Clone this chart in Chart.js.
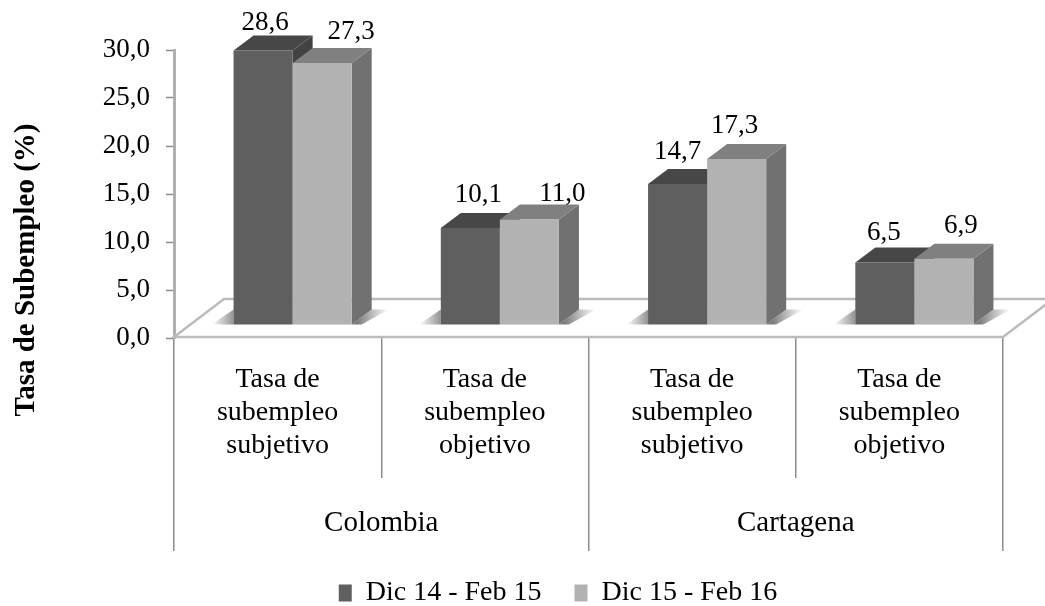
<!DOCTYPE html>
<html>
<head>
<meta charset="utf-8">
<style>html,body{margin:0;padding:0;background:#fff}#w{width:1045px;height:606px;position:relative}</style>
<script src="https://cdn.jsdelivr.net/npm/chart.js@4"></script>
</head>
<body>
<div id="w"><canvas id="c" width="1045" height="606"></canvas></div>
<script>
const categories = [
  ['Tasa de','subempleo','subjetivo'],
  ['Tasa de','subempleo','objetivo'],
  ['Tasa de','subempleo','subjetivo'],
  ['Tasa de','subempleo','objetivo']
];
const groups = ['Colombia','Cartagena'];
const seriesNames = ['Dic 14 - Feb 15','Dic 15 - Feb 16'];
const valuesDic14 = [28.6,10.1,14.7,6.5];
const valuesDic15 = [27.3,11.0,17.3,6.9];
const yTitle = 'Tasa de Subempleo (%)';

const FONT = '"Liberation Serif", serif';
const FS = 27;
const fmt = v => Number(v).toFixed(1).replace('.',',');
const labelShift = [
  [[2,-28],[8,-33],[0,-32],[-1,-30]],
  [[29,-31],[33,-25],[-2,-33],[17,-33]]
];
const palette = [
  {front:'#5f5f5f',top:'#474747',side:'#424242'},
  {front:'#b2b2b2',top:'#808080',side:'#717171'}
];
const OFF = {x:15,y:-13}, DEPTH = {x:20,y:-15}, FLOOR = {x:50,y:-38};

function poly(ctx,pts,fill){
  ctx.beginPath();
  pts.forEach((p,i)=> i?ctx.lineTo(p[0],p[1]):ctx.moveTo(p[0],p[1]));
  ctx.closePath();
  ctx.fillStyle=fill; ctx.fill();
}
function drawBox(ctx,chart,idx){
  chart.getDatasetMeta(idx).data.forEach(el=>{
    const l=el.x-el.width/2, r=el.x+el.width/2, t=el.y, b=el.base;
    const c=palette[idx];
    poly(ctx,[[r,t],[r+DEPTH.x,t+DEPTH.y],[r+DEPTH.x,b+DEPTH.y],[r,b]],c.side);
    poly(ctx,[[l,t],[l+DEPTH.x,t+DEPTH.y],[r+DEPTH.x,t+DEPTH.y],[r,t]],c.top);
  });
}
const box3d = {
  id:'box3d',
  afterLayout(chart){
    chart.legend.left = 113;
  },
  beforeDatasetsDraw(chart){
    const ctx=chart.ctx, a=chart.chartArea;
    ctx.save();
    const y=a.bottom-1;
    ctx.beginPath();
    ctx.moveTo(a.left,y); ctx.lineTo(a.right,y);
    ctx.lineTo(a.right+FLOOR.x,y+FLOOR.y); ctx.lineTo(a.left+FLOOR.x,y+FLOOR.y);
    ctx.closePath();
    ctx.fillStyle='#fff'; ctx.fill();
    ctx.strokeStyle='#bcbcbc'; ctx.lineWidth=2.5; ctx.lineJoin='miter'; ctx.stroke();
    ctx.restore();
    ctx.save();
    ctx.translate(OFF.x,OFF.y);
    const m0=chart.getDatasetMeta(0).data, m1=chart.getDatasetMeta(1).data;
    m0.forEach((el,i)=>{
      const l=el.x-el.width/2, r=m1[i].x+m1[i].width/2, b=el.base;
      let g=ctx.createLinearGradient(l-22,0,l,0);
      g.addColorStop(0,'rgba(120,120,120,0)'); g.addColorStop(1,'rgba(120,120,120,.8)');
      poly(ctx,[[l,b],[l-22,b],[l,b-15]],g);
      g=ctx.createLinearGradient(r+6,0,r+37,0);
      g.addColorStop(0,'rgba(110,110,110,.9)'); g.addColorStop(1,'rgba(120,120,120,0)');
      poly(ctx,[[r,b],[r+20,b-15],[r+37,b-15],[r+10,b]],g);
    });
  },
  beforeDatasetDraw(chart,args){
    if(args.index===1) return false;
    drawBox(chart.ctx,chart,0);
  },
  afterDatasetsDraw(chart){
    const ctx=chart.ctx;
    drawBox(ctx,chart,1);
    chart.getDatasetMeta(1).controller.draw();
    ctx.restore();
  },
  afterDraw(chart){
    const ctx=chart.ctx;
    ctx.save();
    ctx.fillStyle='#000';
    ctx.font=FS+'px '+FONT;
    ctx.textAlign='center'; ctx.textBaseline='middle';
    chart.data.datasets.forEach((ds,d)=>{
      chart.getDatasetMeta(d).data.forEach((el,i)=>{
        const s=labelShift[d][i];
        ctx.fillText(fmt(ds.data[i]),el.x+OFF.x+s[0],el.y+OFF.y+s[1]);
      });
    });
    ctx.font='bold 29px '+FONT;
    ctx.translate(27,270);
    ctx.rotate(-Math.PI/2);
    ctx.fillText(yTitle,0,0);
    ctx.restore();
  }
};

new Chart(document.getElementById('c'),{
  type:'bar',
  data:{
    labels:categories,
    datasets:[
      {label:seriesNames[0],data:valuesDic14,backgroundColor:palette[0].front,xAxisID:'x',clip:false},
      {label:seriesNames[1],data:valuesDic15,backgroundColor:palette[1].front,xAxisID:'x',clip:false}
    ]
  },
  plugins:[box3d],
  options:{
    responsive:false,
    animation:false,
    events:[],
    categoryPercentage:0.57,
    barPercentage:1,
    layout:{padding:{left:0,right:42,top:50,bottom:-11}},
    plugins:{
      tooltip:{enabled:false},
      legend:{
        position:'bottom',
        padding:4,
        labels:{
          boxWidth:13,boxHeight:17,padding:33,color:'#000',
          font:{family:FONT,size:28}
        }
      }
    },
    scales:{
      y:{
        min:0,max:30,
        afterFit(s){s.width=174;},
        grid:{drawOnChartArea:false,tickLength:8,tickColor:'#8c8c8c',tickWidth:1.5},
        border:{color:'#b0b0b0',width:3},
        ticks:{stepSize:5,padding:16,color:'#000',font:{family:FONT,size:FS},callback:v=>fmt(v)}
      },
      x:{
        weight:1,
        offset:true,
        afterFit(s){s.height=140;},
        grid:{offset:true,drawOnChartArea:false,tickLength:140,color:'#8c8c8c',lineWidth:1.5},
        border:{display:false},
        ticks:{padding:-115,maxRotation:0,autoSkip:false,color:'#000',font:{family:FONT,size:28,lineHeight:1.18}}
      },
      x2:{
        type:'category',
        axis:'x',
        position:'bottom',
        weight:2,
        labels:groups,
        offset:true,
        afterFit(s){s.height=68;},
        grid:{offset:true,drawOnChartArea:false,tickLength:73,color:'#8c8c8c',lineWidth:1.5},
        border:{display:false},
        ticks:{padding:-45,maxRotation:0,autoSkip:false,color:'#000',font:{family:FONT,size:29}}
      }
    }
  }
});
</script>
</body>
</html>
